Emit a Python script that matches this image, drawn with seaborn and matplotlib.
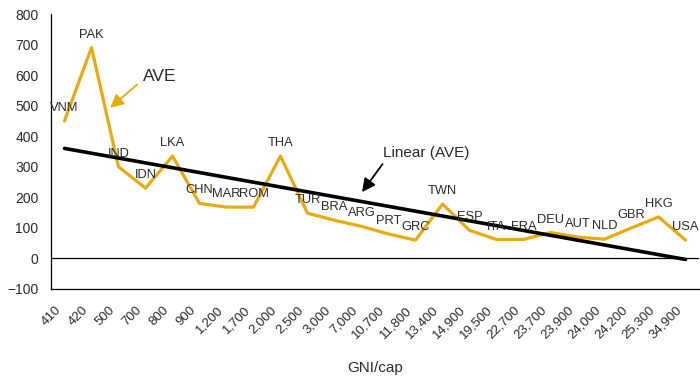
import numpy as np
import pandas as pd
import seaborn as sns
import matplotlib.pyplot as plt
from matplotlib.transforms import ScaledTranslation

# data
countries = ['VNM', 'PAK', 'IND', 'IDN', 'LKA', 'CHN', 'MAR', 'ROM', 'THA', 'TUR', 'BRA', 'ARG',
             'PRT', 'GRC', 'TWN', 'ESP', 'ITA', 'FRA', 'DEU', 'AUT', 'NLD', 'GBR', 'HKG', 'USA']
gni = ['410', '420', '500', '700', '800', '900', '1,200', '1,700', '2,000', '2,500', '3,000', '7,000',
       '10,700', '11,800', '13,400', '14,900', '19,500', '22,700', '23,700', '23,900', '24,000',
       '24,200', '25,300', '34,900']
ave = [450, 690, 300, 230, 335, 180, 168, 168, 335, 148, 125, 105,
       80, 60, 178, 92, 62, 62, 85, 70, 63, 100, 136, 60]

yellow = '#E8AA10'
txt = '#2a2a2a'

df = pd.DataFrame({'pos': np.arange(len(ave)), 'country': countries, 'gni': gni, 'AVE': ave})

sns.set_style('white')
plt.rcParams['font.family'] = ['Liberation Sans', 'DejaVu Sans']

fig = plt.figure(figsize=(7, 3.77), dpi=100)
ax = fig.add_axes([51 / 700, 88 / 377, 648 / 700, 275 / 377])

sns.lineplot(data=df, x='pos', y='AVE', color=yellow, lw=2.3, ax=ax)
# linear trend of AVE
sns.regplot(data=df, x='pos', y='AVE', scatter=False, ci=None, ax=ax,
            line_kws={'color': 'black', 'lw': 2.6})

ax.axhline(0, color='black', lw=0.9)

for i, row in df.iterrows():
    ax.annotate(row['country'], (row['pos'], row['AVE']), xytext=(0, 5),
                textcoords='offset points', ha='center', va='bottom', fontsize=9.3, color=txt)

# callouts
ax.annotate('', xy=(1.69, 493), xytext=(2.69, 569),
            arrowprops=dict(arrowstyle='-|>', color=yellow, lw=1.3, mutation_scale=20,
                            shrinkA=0, shrinkB=0))
ax.text(2.91, 572, 'AVE', fontsize=12.5, color=txt, ha='left', va='bottom')
ax.annotate('', xy=(11.02, 217), xytext=(11.78, 309),
            arrowprops=dict(arrowstyle='-|>', color='black', lw=1.3, mutation_scale=20,
                            shrinkA=0, shrinkB=0))
ax.text(11.8, 322, 'Linear (AVE)', fontsize=11, color=txt, ha='left', va='bottom')

ax.set_xlim(-0.5, len(ave) - 0.5)
ax.set_ylim(-100, 800)
ax.set_yticks(range(-100, 801, 100))
ax.set_yticklabels(['\u2212100' if v < 0 else str(v) for v in range(-100, 801, 100)])

ax.set_xticks(np.arange(len(ave) + 1) - 0.5)
ax.set_xticklabels([])
ax.set_xticks(np.arange(len(ave)), minor=True)
ax.set_xticklabels(gni, minor=True, rotation=45, ha='right', va='center', rotation_mode='anchor')
ax.tick_params(axis='x', which='minor', length=0, pad=14, labelsize=9.5, labelcolor=txt)
ax.tick_params(axis='x', which='major', length=5, width=0.9, direction='out', color='black')
ax.tick_params(axis='y', length=6, width=0.9, direction='in', color='black',
               labelsize=10, labelcolor=txt, pad=9)
shift = ScaledTranslation(-4 / 72, 0, fig.dpi_scale_trans)
for lab in ax.get_xticklabels(minor=True):
    lab.set_transform(lab.get_transform() + shift)

for s in ['top', 'right']:
    ax.spines[s].set_visible(False)
for s in ['left', 'bottom']:
    ax.spines[s].set_color('black')
    ax.spines[s].set_linewidth(0.9)

ax.set_xlabel('GNI/cap', fontsize=11, color=txt, labelpad=14)
ax.set_ylabel('')

fig.savefig('out.png', dpi=100)
